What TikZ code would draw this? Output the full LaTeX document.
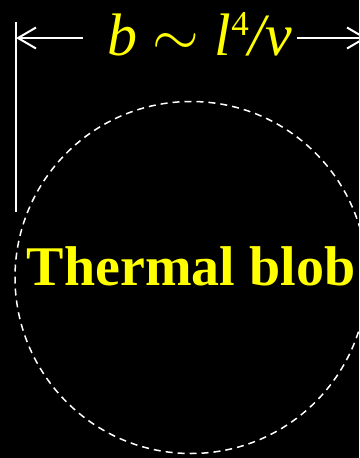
\RequirePackage{fix-cm}
\documentclass[tikz,border=0pt]{standalone}
\usepackage{fontspec}
\setmainfont{Liberation Serif}
\usepackage{tikz}
\usetikzlibrary{arrows.meta,positioning}
\definecolor{blobyel}{RGB}{255,255,0}

\begin{document}
\begin{tikzpicture}[x=1pt,y=-1pt,
    dimline/.style={white,line width=2pt},
    dimarrow/.style={dimline,-{Straight Barb[length=18pt,width=21pt,line width=2pt]}}]
  \fill[black] (0,0) rectangle (359,458);
  \useasboundingbox (0,0) rectangle (359,458);
  % the blob and its size
  \node[draw=white,dashed,dash pattern=on 7pt off 5pt,line width=1.5pt,circle,
    minimum size=352pt,inner sep=0pt] (blob) at (191,277.5) {};
  \node[blobyel,font=\fontsize{56}{56}\selectfont\bfseries] (name) at (191,266) {Thermal blob};
  \coordinate (bartop) at (16,22);
  \coordinate (barbot) at (16,212);
  \coordinate (lend) at (16,38);
  \coordinate (rend) at (367,38);
  \node[blobyel,font=\fontsize{60}{60}\selectfont,inner xsep=5pt,inner ysep=0pt,anchor=base] (size) at (190,55)
    {\hspace{20pt}\itshape b\/ \upshape$\sim$ \itshape l\/\upshape\raisebox{20pt}{\fontsize{35}{35}\selectfont 4}\itshape/v};
  \draw[dimline] (bartop) -- (barbot);
  \draw[dimarrow] (size.west |- lend) -- (lend);
  \draw[dimarrow] (size.east |- rend) -- (rend);
\end{tikzpicture}
\end{document}
